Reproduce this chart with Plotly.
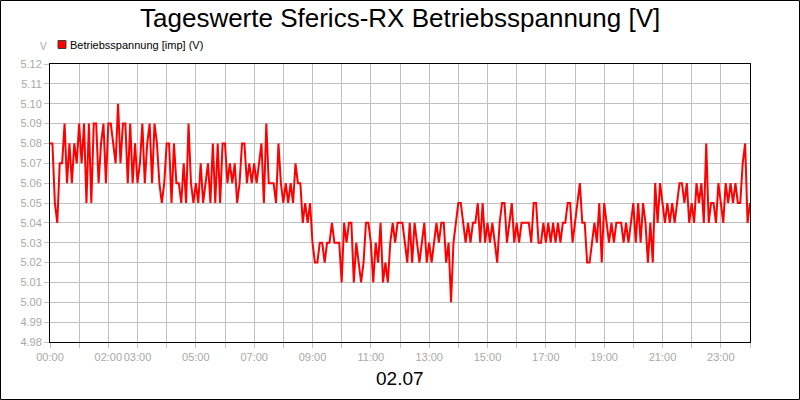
import plotly.graph_objects as go

# Betriebsspannung [V], 5-minute values per hour
h00 = [5.08, 5.08, 5.05, 5.04, 5.07, 5.07, 5.09, 5.06, 5.08, 5.06, 5.08, 5.07]
h01 = [5.09, 5.07, 5.09, 5.05, 5.09, 5.05, 5.09, 5.09, 5.06, 5.08, 5.09, 5.06]
h02 = [5.09, 5.09, 5.08, 5.07, 5.10, 5.07, 5.09, 5.09, 5.06, 5.09, 5.06, 5.08]
h03 = [5.06, 5.07, 5.09, 5.06, 5.08, 5.09, 5.06, 5.09, 5.08, 5.06, 5.05, 5.06]
h04 = [5.08, 5.08, 5.05, 5.08, 5.06, 5.06, 5.05, 5.07, 5.05, 5.09, 5.06, 5.05]
h05 = [5.06, 5.05, 5.07, 5.05, 5.06, 5.07, 5.05, 5.08, 5.05, 5.08, 5.05, 5.08]
h06 = [5.08, 5.06, 5.07, 5.06, 5.07, 5.05, 5.06, 5.08, 5.08, 5.06, 5.07, 5.06]
h07 = [5.07, 5.06, 5.07, 5.08, 5.05, 5.09, 5.06, 5.06, 5.06, 5.05, 5.08, 5.06]
h08 = [5.05, 5.06, 5.05, 5.06, 5.05, 5.07, 5.06, 5.06, 5.04, 5.05, 5.04, 5.05]
h09 = [5.03, 5.02, 5.02, 5.03, 5.03, 5.02, 5.03, 5.03, 5.04, 5.03, 5.03, 5.03]
h10 = [5.01, 5.04, 5.03, 5.04, 5.04, 5.01, 5.03, 5.02, 5.01, 5.02, 5.04, 5.04]
h11 = [5.03, 5.01, 5.03, 5.02, 5.04, 5.01, 5.02, 5.01, 5.03, 5.04, 5.03, 5.04]
h12 = [5.04, 5.04, 5.03, 5.02, 5.04, 5.02, 5.04, 5.03, 5.02, 5.03, 5.04, 5.02]
h13 = [5.03, 5.02, 5.03, 5.04, 5.03, 5.04, 5.04, 5.02, 5.03, 5.00, 5.03, 5.04]
h14 = [5.05, 5.05, 5.04, 5.03, 5.04, 5.03, 5.04, 5.04, 5.05, 5.03, 5.05, 5.03]
h15 = [5.04, 5.03, 5.04, 5.03, 5.02, 5.04, 5.05, 5.05, 5.03, 5.04, 5.05, 5.03]
h16 = [5.04, 5.03, 5.04, 5.04, 5.04, 5.04, 5.03, 5.05, 5.05, 5.03, 5.03, 5.04]
h17 = [5.03, 5.04, 5.03, 5.04, 5.03, 5.04, 5.03, 5.04, 5.04, 5.05, 5.05, 5.03]
h18 = [5.04, 5.05, 5.06, 5.04, 5.04, 5.02, 5.02, 5.03, 5.04, 5.03, 5.05, 5.02]
h19 = [5.05, 5.04, 5.03, 5.04, 5.03, 5.04, 5.04, 5.04, 5.03, 5.04, 5.03, 5.04]
h20 = [5.05, 5.03, 5.05, 5.03, 5.05, 5.04, 5.02, 5.04, 5.02, 5.06, 5.04, 5.06]
h21 = [5.05, 5.04, 5.05, 5.04, 5.05, 5.04, 5.05, 5.06, 5.06, 5.05, 5.06, 5.04]
h22 = [5.05, 5.04, 5.06, 5.05, 5.06, 5.04, 5.08, 5.04, 5.05, 5.05, 5.04, 5.06]
h23 = [5.05, 5.04, 5.06, 5.05, 5.06, 5.05, 5.06, 5.05, 5.05, 5.07, 5.08, 5.04]
h24 = [5.05]

hours = [h00, h01, h02, h03, h04, h05, h06, h07, h08, h09, h10, h11,
         h12, h13, h14, h15, h16, h17, h18, h19, h20, h21, h22, h23, h24]
values = [v for h in hours for v in h]
times = [i * 5 / 60 for i in range(len(values))]

tick_hours = list(range(25))
tick_labels = ["00:00", "", "02:00", "03:00", "", "05:00", "", "07:00", "", "09:00",
               "", "11:00", "", "13:00", "", "15:00", "", "17:00", "", "19:00",
               "", "21:00", "", "23:00", ""]
y_ticks = [4.98, 4.99, 5.00, 5.01, 5.02, 5.03, 5.04, 5.05, 5.06, 5.07, 5.08, 5.09, 5.10, 5.11, 5.12]

title_text = "Tageswerte Sferics-RX Betriebsspannung [V]"
legend_text = "Betriebsspannung [imp] (V)"
date_text = "02.07"
unit_text = "V"

FONT = "Liberation Sans, Arial, sans-serif"
GRAY = "#a8a8a8"
GRID = "#c0c0c0"

fig = go.Figure()
fig.add_trace(go.Scatter(x=times, y=values, mode="lines",
                         line=dict(color="#ff0000", width=2),
                         showlegend=False, hoverinfo="skip"))

W, H = 800, 400
L, R, T, B = 50, 50, 64, 58
pw, ph = W - L - R, H - T - B

def px(x):
    return (x - L) / pw

def py(y):
    return (H - B - y) / ph

fig.update_layout(
    width=W, height=H,
    margin=dict(l=L, r=R, t=T, b=B),
    paper_bgcolor="white", plot_bgcolor="white",
    font=dict(family=FONT),
    xaxis=dict(range=[0, 24], tickvals=tick_hours, ticktext=tick_labels,
               tickangle=0,
               showgrid=True, gridcolor=GRID, gridwidth=1,
               ticks="outside", ticklen=5, tickcolor=GRID,
               tickfont=dict(color=GRAY, size=11, family=FONT),
               showline=True, linecolor="black", linewidth=1, mirror=True,
               zeroline=False, fixedrange=True),
    yaxis=dict(range=[4.98, 5.12], tickvals=y_ticks,
               ticktext=[f"{v:.2f}" for v in y_ticks],
               showgrid=True, gridcolor=GRID, gridwidth=1,
               ticks="outside", ticklen=5, tickcolor=GRID,
               tickfont=dict(color=GRAY, size=11, family=FONT),
               showline=True, linecolor="black", linewidth=1, mirror=True,
               zeroline=False, fixedrange=True),
    shapes=[
        dict(type="rect", xref="paper", yref="paper",
             x0=px(0.5), x1=px(799.5), y0=py(399.5), y1=py(0.5),
             line=dict(color="black", width=1), layer="above"),
        dict(type="rect", xref="paper", yref="paper",
             x0=px(58), x1=px(66), y0=py(48.5), y1=py(40.5),
             fillcolor="#ff0000", line=dict(color="#404040", width=1)),
    ],
    annotations=[
        dict(text=title_text, xref="paper", yref="paper", x=px(400), y=py(18),
             xanchor="center", yanchor="middle", showarrow=False,
             font=dict(size=26, color="black", family=FONT)),
        dict(text=date_text, xref="paper", yref="paper", x=px(400), y=py(378),
             xanchor="center", yanchor="middle", showarrow=False,
             font=dict(size=19, color="black", family=FONT)),
        dict(text=legend_text, xref="paper", yref="paper", x=px(68), y=py(44.5),
             xanchor="left", yanchor="middle", showarrow=False,
             font=dict(size=11, color="black", family=FONT)),
        dict(text=unit_text, xref="paper", yref="paper", x=px(43), y=py(47),
             xanchor="center", yanchor="middle", showarrow=False,
             font=dict(size=10, color=GRAY, family=FONT)),
    ],
)

fig.write_html("out.html", config={"displayModeBar": False})
